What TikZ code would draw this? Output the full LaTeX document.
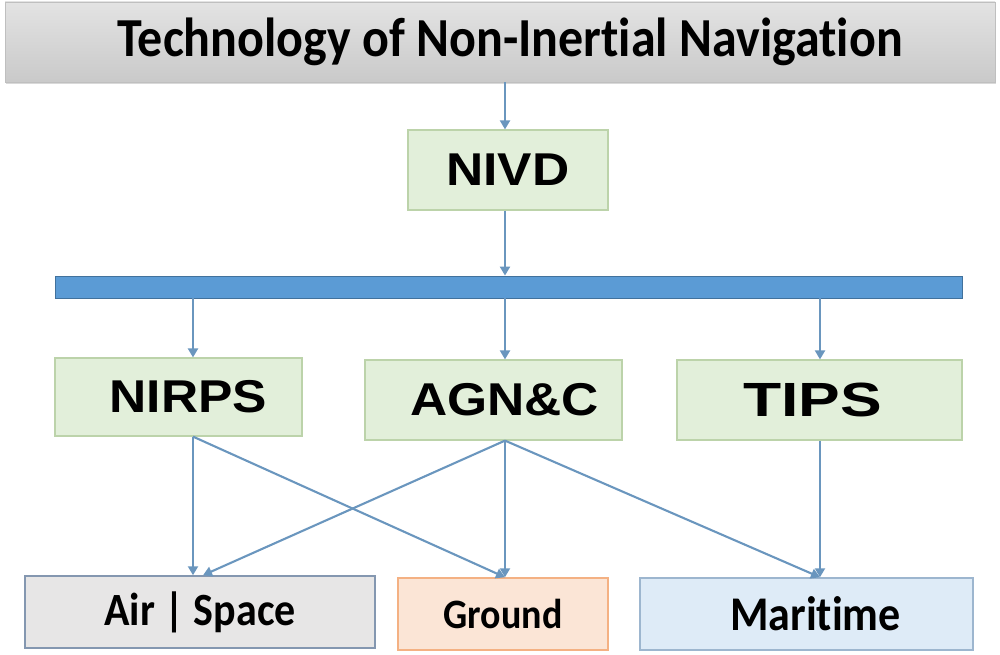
\documentclass[tikz,border=0pt]{standalone}
\usepackage{fontspec}
\setmainfont{Liberation Sans}
\newfontfamily\calfont[RawFeature={-liga}]{Carlito}
\usetikzlibrary{arrows.meta,shadows}
\definecolor{greenfill}{HTML}{E2EFDA}
\definecolor{greendraw}{HTML}{BCD3AA}
\definecolor{barfill}{HTML}{5B9BD5}
\definecolor{bardraw}{HTML}{41719C}
\definecolor{arrcol}{HTML}{6A96BE}
\definecolor{airfill}{HTML}{E7E6E6}
\definecolor{airdraw}{HTML}{8497B0}
\definecolor{gndfill}{HTML}{FBE5D6}
\definecolor{gnddraw}{HTML}{F4B183}
\definecolor{marfill}{HTML}{DEEBF7}
\definecolor{mardraw}{HTML}{9DB6CF}
\newcommand{\wide}[1]{\scalebox{1.12}[1]{#1}}
\newcommand{\tall}[1]{\scalebox{1}[1.1]{#1}}
\begin{document}
\begin{tikzpicture}[x=1pt,y=-1pt,
  greenbox/.style={draw=greendraw,fill=greenfill,line width=1.2pt,inner sep=0pt,
    font=\fontsize{46}{50}\selectfont\bfseries},
  bottombox/.style={line width=1.5pt,inner sep=0pt,
    font=\calfont\fontsize{42}{46}\selectfont\bfseries},
  arr/.style={draw=arrcol,line width=2.1pt,-{Triangle[width=10pt,length=9pt]}}]
\useasboundingbox (0,0) rectangle (1000,655);
\node[top color=gray!22,bottom color=gray!42,draw=gray!50,line width=0.8pt,
  drop shadow={shadow xshift=1pt,shadow yshift=-2pt,opacity=0.3},
  minimum width=990pt,minimum height=80pt,inner sep=0pt,
  font=\calfont\fontsize{50}{54}\selectfont\bfseries] (title) at (500,42)
  {\hspace*{20pt}\tall{Technology of Non-Inertial Navigation}};
\node[greenbox,minimum width=200pt,minimum height=80pt] (nivd) at (508,170) {\wide{NIVD}};
\node[draw=bardraw,fill=barfill,line width=0.8pt,minimum width=907pt,minimum height=22pt,inner sep=0pt] (bar) at (508.5,287) {};
\node[greenbox,minimum width=247pt,minimum height=78pt] (nirps) at (178.5,397) {\hspace*{20pt}\wide{NIRPS}};
\node[greenbox,minimum width=257pt,minimum height=80pt] (agnc) at (493.5,400) {\hspace*{22pt}\wide{AGN\&C}};
\node[greenbox,minimum width=285pt,minimum height=80pt,font=\fontsize{48}{52}\selectfont\bfseries] (tips) at (819.5,400) {\scalebox{1.3}[1]{TIPS}\hspace*{14pt}};
\node[bottombox,draw=airdraw,fill=airfill,minimum width=350pt,minimum height=72pt] (air) at (200,612) {\tall{Air | Space}};
\node[bottombox,draw=gnddraw,fill=gndfill,minimum width=210pt,minimum height=72pt,font=\calfont\fontsize{38}{42}\selectfont\bfseries] (ground) at (503,614) {\tall{Ground}};
\node[bottombox,draw=mardraw,fill=marfill,minimum width=333pt,minimum height=72pt,font=\calfont\fontsize{44}{48}\selectfont\bfseries] (maritime) at (806.5,614) {\hspace*{18pt}\tall{Maritime}};
\coordinate (cl) at (193,0);
\coordinate (cm) at (505,0);
\coordinate (cr) at (820,0);
\coordinate (ca) at (203,0);
\draw[arr] (title.south -| cm) -- (nivd.north -| cm);
\draw[arr] (nivd.south -| cm) -- (bar.north -| cm);
\draw[arr] (bar.south -| cl) -- (nirps.north -| cl);
\draw[arr] (bar.south -| cm) -- (agnc.north -| cm);
\draw[arr] (bar.south -| cr) -- (tips.north -| cr);
\draw[arr] (nirps.south -| cl) -- (air.north -| cl);
\draw[arr] (nirps.south -| cl) -- (ground.north -| cm);
\draw[arr] (agnc.south -| cm) -- (air.north -| ca);
\draw[arr] (agnc.south -| cm) -- (ground.north -| cm);
\draw[arr] (agnc.south -| cm) -- (maritime.north -| cr);
\draw[arr] (tips.south -| cr) -- (maritime.north -| cr);
\end{tikzpicture}
\end{document}
